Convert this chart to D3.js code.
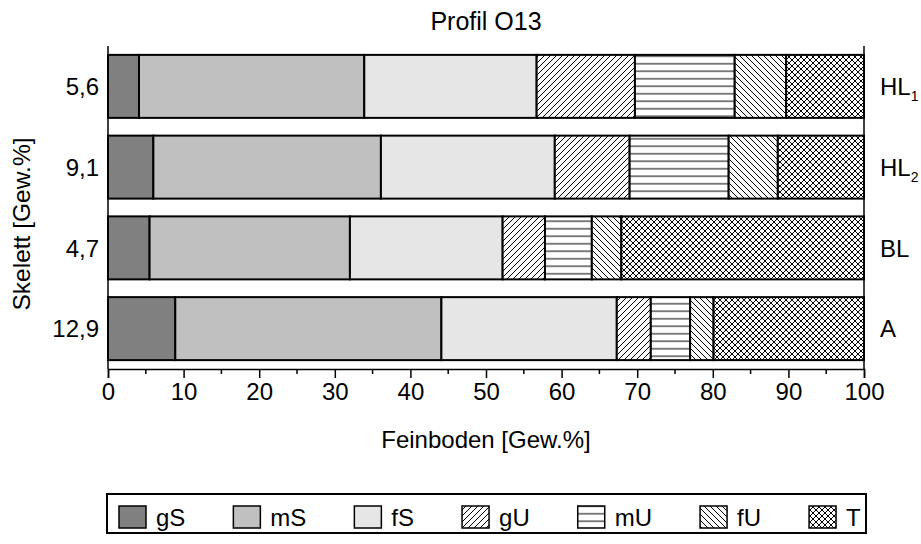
<!DOCTYPE html>
<html>
<head>
<meta charset="utf-8">
<script src="https://cdn.jsdelivr.net/npm/d3@7"></script>
<style>
  html, body { margin: 0; padding: 0; background: #fff; }
  svg { display: block; font-family: "Liberation Sans", Arial, sans-serif; }
</style>
</head>
<body>
<svg id="chart" width="921" height="544"></svg>
<script>
// Horizons of the profile (top to bottom) and their gravel content
const horizons = ["HL1", "HL2", "BL", "A"];
const horizonBase = ["HL", "HL", "BL", "A"];
const horizonSub = ["1", "2", "", ""];
const skelett = ["5,6", "9,1", "4,7", "12,9"];

// Grain size fractions of the fine soil [Gew.%], one value per horizon
const fractions = ["gS", "mS", "fS", "gU", "mU", "fU", "T"];
const gS = [4.1, 6.0, 5.5, 8.9];
const mS = [29.8, 30.1, 26.5, 35.2];
const fS = [22.8, 23.0, 20.2, 23.2];
const gU = [13.0, 9.9, 5.6, 4.5];
const mU = [13.2, 13.1, 6.2, 5.2];
const fU = [6.8, 6.5, 3.9, 3.1];
const T  = [10.3, 11.4, 32.1, 19.9];

const xTicks = [0, 10, 20, 30, 40, 50, 60, 70, 80, 90, 100];
const xMinorTicks = [5, 15, 25, 35, 45, 55, 65, 75, 85, 95];

const seriesValues = { gS, mS, fS, gU, mU, fU, T };
const rows = horizons.map((h, i) => {
  const r = { horizon: h };
  fractions.forEach(f => { r[f] = seriesValues[f][i]; });
  return r;
});

const svg = d3.select("#chart");
const plotLeft = 108, plotRight = 864, plotTop = 46, plotBottom = 369;
const fontSize = 24;

const x = d3.scaleLinear().domain([0, 100]).range([plotLeft, plotRight]);
const y = d3.scaleBand().domain(horizons).range([plotTop, plotBottom])
  .paddingInner(0.22).paddingOuter(0.11);

// Fill patterns
const defs = svg.append("defs");
function hatch(id, w, h, d) {
  const p = defs.append("pattern").attr("id", id)
    .attr("patternUnits", "userSpaceOnUse").attr("width", w).attr("height", h);
  p.append("rect").attr("width", w).attr("height", h).attr("fill", "#fff");
  p.append("path").attr("d", d).attr("stroke", "#000")
    .attr("stroke-width", 1).attr("fill", "none");
}
hatch("p-gU", 6, 6, "M-1,1 L1,-1 M0,6 L6,0 M5,7 L7,5");
hatch("p-mU", 8, 7.5, "M0,3.75 L8,3.75");
hatch("p-fU", 6, 6, "M-1,5 L1,7 M0,0 L6,6 M5,-1 L7,1");
hatch("p-T", 6, 6, "M-1,1 L1,-1 M0,6 L6,0 M5,7 L7,5 M-1,5 L1,7 M0,0 L6,6 M5,-1 L7,1");

const fills = {
  gS: "#808080", mS: "#c0c0c0", fS: "#e6e6e6",
  gU: "url(#p-gU)", mU: "url(#p-mU)", fU: "url(#p-fU)", T: "url(#p-T)"
};

const stacked = d3.stack().keys(fractions)(rows);

// Stacked bars
svg.append("g").selectAll("g").data(stacked).join("g")
  .attr("fill", d => fills[d.key])
  .selectAll("rect").data(d => d).join("rect")
  .attr("x", d => x(d[0]))
  .attr("width", d => x(d[1]) - x(d[0]))
  .attr("y", d => y(d.data.horizon))
  .attr("height", y.bandwidth())
  .attr("stroke", "#000").attr("stroke-width", 2);

// Frame lines
const frame = svg.append("g").attr("stroke", "#000").attr("stroke-width", 1.5);
frame.append("line").attr("x1", plotLeft).attr("x2", plotLeft).attr("y1", plotTop).attr("y2", plotBottom);
frame.append("line").attr("x1", plotRight).attr("x2", plotRight).attr("y1", plotTop).attr("y2", plotBottom);

// X axis
const xAxis = svg.append("g").attr("transform", `translate(0,${plotBottom})`)
  .call(d3.axisBottom(x).tickValues(xTicks).tickSize(9).tickPadding(5).tickFormat(d3.format("d")));
xAxis.select(".domain").attr("stroke-width", 1.5);
xAxis.selectAll(".tick line").attr("stroke-width", 1.5);
xAxis.selectAll("text").attr("font-size", fontSize).attr("fill", "#000")
  .attr("font-family", "Liberation Sans, Arial, sans-serif");
svg.append("g").attr("transform", `translate(0,${plotBottom})`)
  .selectAll("line").data(xMinorTicks).join("line")
  .attr("x1", d => x(d)).attr("x2", d => x(d)).attr("y1", 0).attr("y2", 5)
  .attr("stroke", "#000").attr("stroke-width", 1.5);

// Gravel content at left
svg.append("g").selectAll("text").data(horizons).join("text")
  .attr("x", 99).attr("y", d => y(d) + y.bandwidth() / 2)
  .attr("dy", "0.36em").attr("text-anchor", "end").attr("font-size", fontSize)
  .text((d, i) => skelett[i]);

// Horizon names at right
const hl = svg.append("g").selectAll("text").data(horizons).join("text")
  .attr("x", 880).attr("y", d => y(d) + y.bandwidth() / 2)
  .attr("dy", "0.36em").attr("font-size", fontSize);
hl.append("tspan").text((d, i) => horizonBase[i]);
hl.append("tspan").attr("font-size", 14).attr("dy", 6).text((d, i) => horizonSub[i]);

// Titles
svg.append("text").attr("x", (plotLeft + plotRight) / 2).attr("y", 30)
  .attr("text-anchor", "middle").attr("font-size", 25).text("Profil O13");
svg.append("text").attr("x", (plotLeft + plotRight) / 2).attr("y", 448)
  .attr("text-anchor", "middle").attr("font-size", fontSize).text("Feinboden [Gew.%]");
svg.append("text").attr("transform", "translate(30,224) rotate(-90)")
  .attr("text-anchor", "middle").attr("font-size", 24.5).text("Skelett [Gew.%]");

// Legend
const lg = svg.append("g");
lg.append("rect").attr("x", 107).attr("y", 494).attr("width", 759).attr("height", 39)
  .attr("fill", "#fff").attr("stroke", "#000").attr("stroke-width", 2);
let cx = 119;
fractions.forEach(f => {
  lg.append("rect").attr("x", cx).attr("y", 506).attr("width", 27).attr("height", 22)
    .attr("fill", fills[f]).attr("stroke", "#000").attr("stroke-width", 1.5);
  const t = lg.append("text").attr("x", cx + 37).attr("y", 526)
    .attr("font-size", fontSize).text(f);
  cx += 37 + t.node().getComputedTextLength() + 48;
});
</script>
</body>
</html>
